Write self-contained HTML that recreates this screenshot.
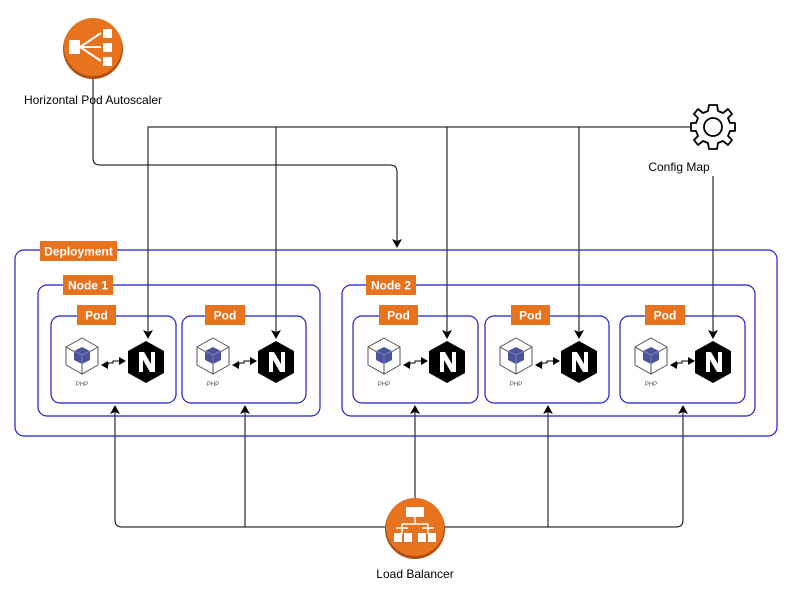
<!DOCTYPE html>
<html><head><style>
body{margin:0;background:#fff;}
svg text{font-family:"Liberation Sans",Arial,sans-serif;}
</style></head><body>
<svg width="800" height="600" viewBox="0 0 800 600" xmlns="http://www.w3.org/2000/svg">
<defs>
<marker id="ar" markerWidth="10" markerHeight="10" refX="8" refY="5" orient="auto" markerUnits="userSpaceOnUse"><path d="M0,0 L9,5 L0,10 L2,5 z" fill="#000"/></marker>
<marker id="as" markerWidth="8" markerHeight="8" refX="6" refY="4" orient="auto-start-reverse" markerUnits="userSpaceOnUse"><path d="M0,0 L7,4 L0,8 z" fill="#000"/></marker>
<g id="php">
<path d="M0,-17 L16,-8 L16,10 L0,19 L-16,10 L-16,-8 Z" fill="#fff" stroke="#555" stroke-width="1"/>
<path d="M-16,-8 L0,1 L16,-8 M0,1 L0,19" fill="none" stroke="#555" stroke-width="1"/>
<path d="M0,-8 L8,-4 L8,5 L0,9 L-8,5 L-8,-4 Z" fill="#4c5499"/>
<path d="M-8,-4 L0,0 L8,-4 M0,0 L0,9" fill="none" stroke="#8890c8" stroke-width="0.7"/>
<text x="0" y="31" font-size="6" text-anchor="middle" fill="#555">PHP</text>
</g>
<g id="ngx">
<path d="M0,-21 L18,-11 L18,11 L0,21 L-18,11 L-18,-11 Z" fill="#000"/>
<path d="M-7,10 L-7,-10 L-2,-10 L5,2 L5,-10 L9,-10 L9,10 L4,10 L-3,-2 L-3,10 Z" fill="#fff"/>
</g>
</defs>

<!-- config map lines -->
<g stroke="#000" stroke-width="1" fill="none">
<path d="M690,127 H148 V338" marker-end="url(#ar)"/>
<path d="M276,127 V338" marker-end="url(#ar)"/>
<path d="M447,127 V338" marker-end="url(#ar)"/>
<path d="M579,127 V338" marker-end="url(#ar)"/>
<path d="M713,176 V338" marker-end="url(#ar)"/>
<path d="M93,78 V158 Q93,165 100,165 H390 Q397,165 397,172 V247" marker-end="url(#ar)"/>
<path d="M415,498 V406" marker-end="url(#ar)"/>
<path d="M386,527 H122 Q115,527 115,520 V406" marker-end="url(#ar)"/>
<path d="M245,527 V406" marker-end="url(#ar)"/>
<path d="M444,527 H676 Q683,527 683,520 V406" marker-end="url(#ar)"/>
<path d="M548,527 V406" marker-end="url(#ar)"/>
</g>

<!-- containers -->
<g fill="none" stroke="#1f1fc8" stroke-width="1.2">
<rect x="15" y="250" width="762" height="186" rx="9"/>
<rect x="38" y="285" width="282" height="131" rx="9"/>
<rect x="342" y="285" width="413" height="131" rx="9"/>
<rect x="51" y="316" width="125" height="87" rx="9"/>
<rect x="182" y="316" width="124" height="87" rx="9"/>
<rect x="353" y="316" width="125" height="87" rx="9"/>
<rect x="485" y="316" width="124" height="87" rx="9"/>
<rect x="620" y="316" width="125" height="87" rx="9"/>
</g>
<!-- cover lines crossing labels/boxes? labels -->
<g fill="#e8731f" font-weight="bold" font-size="12">
<rect x="40" y="241" width="77" height="20"/>
<rect x="63" y="275" width="50" height="20"/>
<rect x="366" y="275" width="50" height="20"/>
<rect x="77" y="305" width="39" height="20"/>
<rect x="205" y="305" width="40" height="20"/>
<rect x="379" y="305" width="39" height="20"/>
<rect x="511" y="305" width="39" height="20"/>
<rect x="645" y="305" width="40" height="20"/>
</g>
<g fill="#fff" font-weight="bold" font-size="12" text-anchor="middle">
<text x="78.5" y="255.5">Deployment</text>
<text x="88" y="289.5">Node 1</text>
<text x="391" y="289.5">Node 2</text>
<text x="96.5" y="319.5">Pod</text>
<text x="225" y="319.5">Pod</text>
<text x="398.5" y="319.5">Pod</text>
<text x="530.5" y="319.5">Pod</text>
<text x="665" y="319.5">Pod</text>
</g>

<!-- pods content -->
<g>
<use href="#php" x="82" y="355"/><use href="#ngx" x="146" y="362"/>
<use href="#php" x="213" y="355"/><use href="#ngx" x="276" y="362"/>
<use href="#php" x="384" y="355"/><use href="#ngx" x="447" y="362"/>
<use href="#php" x="516" y="355"/><use href="#ngx" x="579" y="362"/>
<use href="#php" x="651" y="355"/><use href="#ngx" x="713" y="362"/>
</g>
<g stroke="#000" stroke-width="1" fill="none">
<path d="M102,365 l6,0 l0,-2 l5,0 l0,-2 l12,0" marker-start="url(#as)" marker-end="url(#as)"/>
<path d="M233,365 l6,0 l0,-2 l5,0 l0,-2 l12,0" marker-start="url(#as)" marker-end="url(#as)"/>
<path d="M404,365 l6,0 l0,-2 l5,0 l0,-2 l12,0" marker-start="url(#as)" marker-end="url(#as)"/>
<path d="M536,365 l6,0 l0,-2 l5,0 l0,-2 l12,0" marker-start="url(#as)" marker-end="url(#as)"/>
<path d="M671,365 l6,0 l0,-2 l5,0 l0,-2 l12,0" marker-start="url(#as)" marker-end="url(#as)"/>
</g>

<!-- HPA -->
<circle cx="93" cy="49" r="30" fill="#b24f10"/>
<circle cx="93" cy="47" r="29" fill="#e8731f"/>
<g fill="#fff" stroke="#fff">
<rect x="69" y="40" width="11" height="14" stroke="none"/>
<rect x="103" y="29" width="9" height="9" stroke="none"/>
<rect x="103" y="43" width="9" height="9" stroke="none"/>
<rect x="103" y="57" width="9" height="9" stroke="none"/>
<path d="M80,47 L101,33 M80,47 L101,47 M80,47 L101,61" stroke-width="2" fill="none"/>
</g>
<text x="93" y="104" font-size="12" text-anchor="middle" fill="#000">Horizontal Pod Autoscaler</text>

<!-- Gear -->
<g transform="translate(713,127)">
<g fill="#fff" stroke="#000" stroke-width="1.8">
<path d="M-4,-22 L4,-22 L5,-16 L10,-14 L15,-18 L19,-13 L15,-9 L17,-4 L22,-4 L22,4 L17,4 L15,9 L19,13 L15,18 L10,14 L5,16 L4,22 L-4,22 L-5,16 L-10,14 L-15,18 L-19,13 L-15,9 L-17,4 L-22,4 L-22,-4 L-17,-4 L-15,-9 L-19,-13 L-15,-18 L-10,-14 L-5,-16 Z" stroke-linejoin="round"/>
<circle r="9"/>
</g>
</g>
<text x="679" y="171" font-size="12" text-anchor="middle" fill="#000">Config Map</text>

<!-- LB -->
<circle cx="415" cy="529" r="30" fill="#b24f10"/>
<circle cx="415" cy="527" r="29" fill="#e8731f"/>
<g fill="#fff" stroke="#fff">
<rect x="406" y="507" width="18" height="10" stroke="none"/>
<path d="M415,517 V524 M402,524 H428 M402,524 V534 M428,524 V534 M396,528 H408 M422,528 H434" stroke-width="1.5" fill="none"/>
<rect x="394" y="533" width="8" height="9" stroke="none"/>
<rect x="404" y="533" width="8" height="9" stroke="none"/>
<rect x="418" y="533" width="8" height="9" stroke="none"/>
<rect x="428" y="533" width="8" height="9" stroke="none"/>
</g>
<text x="415" y="578" font-size="12" text-anchor="middle" fill="#000">Load Balancer</text>
</svg>
</body></html>
